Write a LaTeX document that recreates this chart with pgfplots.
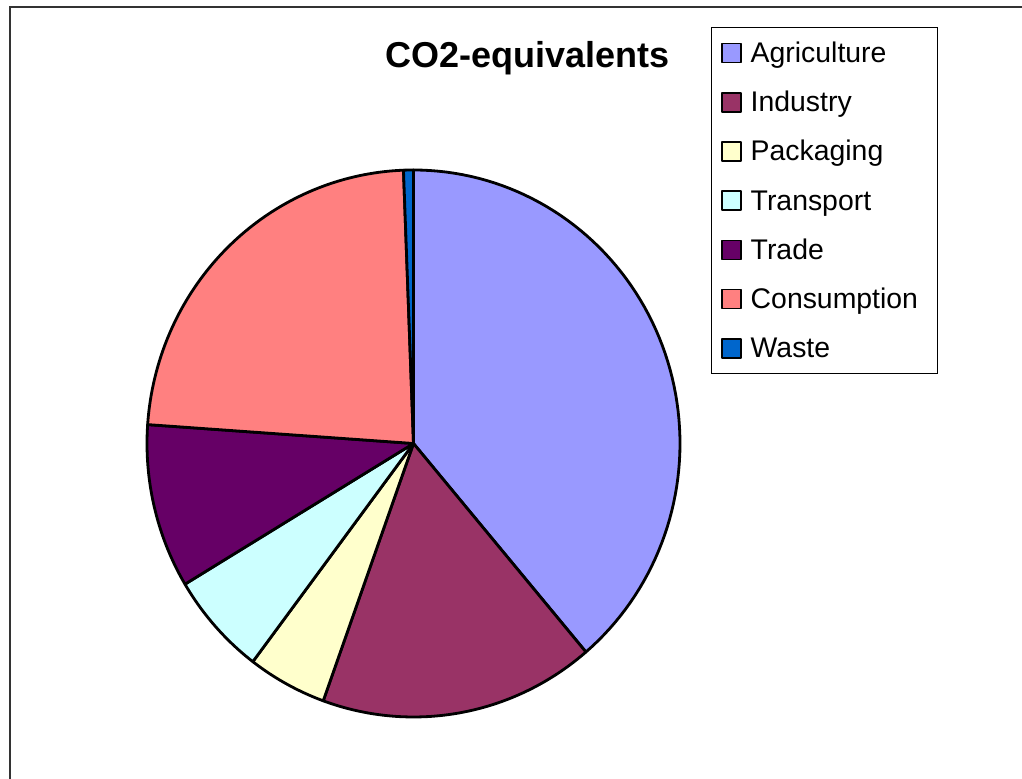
\documentclass[border=0pt]{standalone}
\usepackage{pgfplots}
\pgfplotsset{compat=1.18}
\usepackage{fontspec}
\setmainfont{Liberation Sans}

\definecolor{cAgri}{HTML}{9999FF}
\definecolor{cInd}{HTML}{993366}
\definecolor{cPack}{HTML}{FFFFCC}
\definecolor{cTrans}{HTML}{CCFFFF}
\definecolor{cTrade}{HTML}{660066}
\definecolor{cCons}{HTML}{FF8080}
\definecolor{cWaste}{HTML}{0066CC}

% pie geometry (axis units)
\def\cx{413.5}
\def\cy{335.5}
\def\rx{266.5}
\def\ry{273.5}

% one wedge: share in percent, colour, legend text; clockwise from 12 o'clock
\gdef\slicestart{0}
\newcommand\slice[3]{%
  \pgfmathsetmacro\sliceend{\slicestart+3.6*#1}%
  \edef\doslice{\noexpand\addplot[fill=#2, draw=black, line width=1.4pt, line join=round,
      domain=\slicestart:\sliceend, samples=80, variable=\noexpand\t]
      ({\cx+\rx*sin(\noexpand\t)},{\cy+\ry*cos(\noexpand\t)}) -- (axis cs:\cx,\cy) -- cycle;}%
  \doslice
  \addlegendentry{\makebox[88pt][l]{#3}}%
  \global\let\slicestart\sliceend}

\begin{document}
\begin{tikzpicture}
\useasboundingbox (0,0) rectangle (511pt,389.5pt);
\begin{axis}[
  at={(0,0)}, anchor=south west,
  scale only axis, width=511pt, height=389.5pt,
  xmin=0, xmax=1022, ymin=0, ymax=779,
  hide axis, clip=false,
  legend image code/.code={%
    \path (-0.4pt,0pt) (12.3pt,0pt);
    \draw[#1, line width=0.8pt] (1pt,-4.75pt) rectangle (10.5pt,4.75pt);},
  legend style={at={(axis cs:711,752)}, anchor=north west, draw=black, line width=0.5pt,
    inner xsep=3.25pt, inner ysep=0.5pt, row sep=0pt, column sep=0pt,
    font=\fontsize{14.2}{16}\selectfont,
    nodes={inner xsep=2.25pt, inner ysep=5.55pt, text height=11.5pt, text depth=2pt}},
  legend cell align=left,
]
\slice{38.8}{cAgri}{Agriculture}
\slice{16.7}{cInd}{Industry}
\slice{4.8}{cPack}{Packaging}
\slice{6.1}{cTrans}{Transport}
\slice{9.7}{cTrade}{Trade}
\slice{23.3}{cCons}{Consumption}
\slice{0.6}{cWaste}{Waste}

\node[anchor=base, font=\bfseries\fontsize{18}{20}\selectfont] at (axis cs:527.5,711) {CO2-equivalents};
\draw[black!80, line width=0.8pt] (axis cs:10,0) -- (axis cs:10,772) -- (axis cs:1022,772);
\end{axis}
\end{tikzpicture}
\end{document}
